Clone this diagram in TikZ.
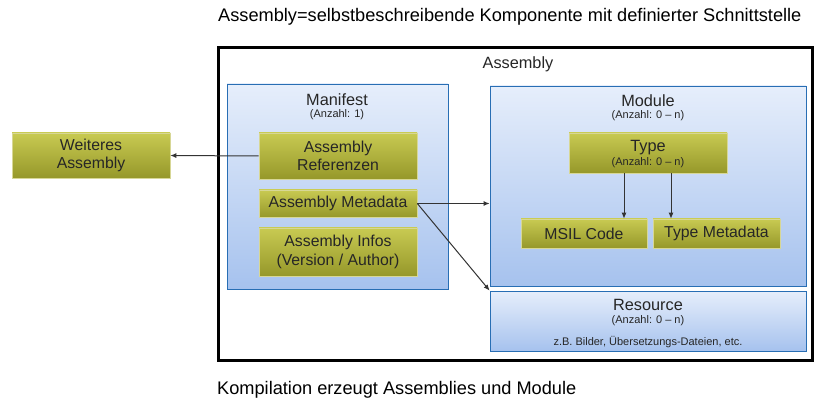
\documentclass[tikz,border=0pt]{standalone}
\usepackage{fontspec}
\setmainfont{Liberation Sans}
\usetikzlibrary{arrows.meta,shadows}
\definecolor{gtop}{RGB}{200,202,82}
\definecolor{gbot}{RGB}{150,152,42}
\definecolor{gline}{RGB}{215,215,150}
\definecolor{btop}{RGB}{230,238,251}
\definecolor{bbot}{RGB}{166,194,238}
\definecolor{bline}{RGB}{40,110,180}
\tikzset{
  gbox/.style={rectangle, draw=gline, line width=0.6pt, top color=gtop, bottom color=gbot,
    drop shadow={shadow xshift=1.2pt, shadow yshift=-1.5pt, opacity=0.35},
    align=center, font=\fontsize{15.8}{18.5}\selectfont, inner sep=0pt, text=black!85},
  bbox/.style={rectangle, draw=bline, line width=0.8pt, top color=btop, bottom color=bbot, inner sep=0pt},
  ttl/.style={font=\fontsize{16.3}{18}\selectfont, text=black!85, inner sep=0pt},
  captxt/.style={font=\fontsize{18.2}{20}\selectfont, text=black, inner sep=0pt},
  sml/.style={font=\fontsize{11}{12}\selectfont, text=black!85, inner sep=0pt},
  conn/.style={draw=black!80, line width=1pt, -{Latex[length=6pt,width=5pt]}},
}
\begin{document}
\begin{tikzpicture}[x=1pt,y=-1pt]
\useasboundingbox (0,0) rectangle (823,409);
% captions
\node[captxt, anchor=west] (cap1) at (218,17) {Assembly=selbstbeschreibende Komponente mit definierter Schnittstelle};
\node[captxt, anchor=west] (cap2) at (217,390) {Kompilation erzeugt Assemblies und Module};
% outer assembly
\node[draw=black, line width=3pt, minimum width=594pt, minimum height=312pt, inner sep=0pt] (asm) at (515,204) {};
\node[ttl] (asmlbl) at (518,64) {Assembly};
% manifest
\node[bbox, minimum width=221pt, minimum height=205pt] (man) at (337.5,186.5) {};
\node[ttl] (manlbl) at (337,100) {Manifest};
\node[sml] (mannum) at (337,115) {(Anzahl: 1)};
\node[gbox, minimum width=158pt, minimum height=46pt] (ref) at (338,156) {Assembly\\Referenzen};
\node[gbox, minimum width=158pt, minimum height=27pt] (meta) at (338,203.5) {Assembly Metadata};
\node[gbox, minimum width=158pt, minimum height=48pt] (info) at (338,252) {Assembly Infos\\(Version / Author)};
% module
\node[bbox, minimum width=316pt, minimum height=200pt] (mod) at (648,186) {};
\node[ttl] (modlbl) at (648,101) {Module};
\node[sml] (modnum) at (648,116) {(Anzahl: 0 -- n)};
\node[gbox, minimum width=158pt, minimum height=40pt] (type) at (648,153) {};
\node[ttl] (typelbl) at (648,148) {Type};
\node[sml] (typenum) at (648,163) {(Anzahl: 0 -- n)};
\node[gbox, minimum width=126pt, minimum height=29pt] (msil) at (584,233.5) {MSIL Code};
\node[gbox, minimum width=127pt, minimum height=29pt] (tmeta) at (716.5,233.5) {Type Metadata};
% resource
\node[bbox, minimum width=316pt, minimum height=60pt] (res) at (648,321) {};
\node[ttl] (reslbl) at (648,305) {Resource};
\node[sml] (resnum) at (648,321) {(Anzahl: 0 -- n)};
\node[sml] (resnote) at (648,342) {z.B. Bilder, Übersetzungs-Dateien, etc.};
% other assembly
\node[gbox, minimum width=158pt, minimum height=45pt] (weit) at (91,155.5) {Weiteres\\Assembly};
% connectors
\draw[conn] (ref.west) -- (weit.east);
\draw[conn] (meta.east) -- (mod.west |- meta.east);
\draw[conn] (meta.east) -- (res.north west);
\coordinate (t1) at (624,173.5);
\coordinate (t2) at (671,173.5);
\draw[conn] (t1) -- (t1 |- msil.north);
\draw[conn] (t2) -- (t2 |- tmeta.north);
\end{tikzpicture}
\end{document}
